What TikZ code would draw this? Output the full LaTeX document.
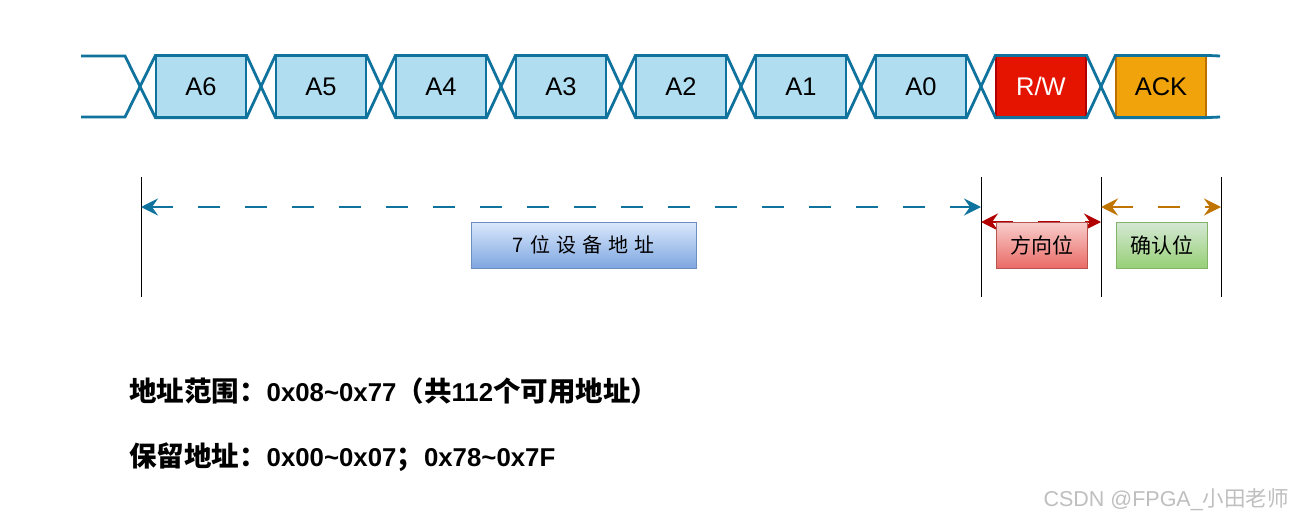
\documentclass[tikz,border=0pt]{standalone}
\usepackage{fontspec}
\setmainfont{Liberation Sans}
\newfontfamily\cjk{Noto Sans CJK SC}
\newcommand\cjbig[1]{{\cjk\fontsize{27.5}{30}\selectfont #1}}
\usetikzlibrary{arrows.meta}
\definecolor{busblue}{HTML}{10739E}
\definecolor{boxblue}{HTML}{B1DDF0}
\definecolor{rwfill}{HTML}{E51400}
\definecolor{rwdraw}{HTML}{B20000}
\definecolor{ackfill}{HTML}{F0A30A}
\definecolor{ackdraw}{HTML}{BD7000}
\definecolor{arrblue}{HTML}{10739E}
\definecolor{arrred}{HTML}{B20000}
\definecolor{arrorange}{HTML}{C07400}
\definecolor{bltop}{HTML}{DAE8FC}
\definecolor{blbot}{HTML}{7EA6E0}
\definecolor{bldraw}{HTML}{6C8EBF}
\definecolor{rdtop}{HTML}{F8CECC}
\definecolor{rdbot}{HTML}{EA6B66}
\definecolor{rddraw}{HTML}{B85450}
\definecolor{grtop}{HTML}{D5E8D4}
\definecolor{grbot}{HTML}{97D077}
\definecolor{grdraw}{HTML}{82B366}
\begin{document}
\begin{tikzpicture}[x=1pt,y=-1pt,
  bus/.style={draw=busblue, line width=2.8pt, line join=miter},
  bitbox/.style={draw=busblue, line width=1.2pt, fill=boxblue, minimum width=90pt,
    minimum height=61pt, inner sep=0pt, text height=18pt, text depth=0pt,
    font=\fontsize{25.5}{30}\selectfont},
  tick/.style={draw=black, line width=1pt},
  span/.style={line width=2.5pt, dash pattern=on 22pt off 25pt,
    {Stealth[length=17pt,width=17pt,inset=6pt]}-{Stealth[length=17pt,width=17pt,inset=6pt]}},
  labelbox/.style={line width=1pt, minimum height=46pt, inner sep=0pt,
    font=\cjk\fontsize{21}{24}\selectfont},
  note/.style={anchor=base west, inner sep=0pt, font=\bfseries\fontsize{25.8}{30}\selectfont}
]
\useasboundingbox (0,0) rectangle (1296,522);
\fill[white] (0,0) rectangle (1296,522);

% bit boxes
\node[bitbox] (a6) at (201,86.5) {A6};
\node[bitbox] (a5) at (321,86.5) {A5};
\node[bitbox] (a4) at (441,86.5) {A4};
\node[bitbox] (a3) at (561,86.5) {A3};
\node[bitbox] (a2) at (681,86.5) {A2};
\node[bitbox] (a1) at (801,86.5) {A1};
\node[bitbox] (a0) at (921,86.5) {A0};
\node[bitbox, fill=rwfill, draw=rwdraw, text=white] (rw) at (1041,86.5) {R/W};
\node[bitbox, fill=ackfill, draw=ackdraw] (ack) at (1161,86.5) {ACK};

\coordinate (s0t) at (81,56);
\coordinate (s1t) at (125,56);
\coordinate (s0b) at (81,117);
\coordinate (s1b) at (125,117);
\coordinate (e0t) at (1220,56);
\coordinate (e0b) at (1220,117);

\draw[bus] (s0t) -- (s1t) -- (a6.south west) -- (a6.south east) -- (a5.north west) -- (a5.north east)
  -- (a4.south west) -- (a4.south east) -- (a3.north west) -- (a3.north east)
  -- (a2.south west) -- (a2.south east) -- (a1.north west) -- (a1.north east)
  -- (a0.south west) -- (a0.south east) -- (rw.north west) -- (rw.north east)
  -- (ack.south west) -- (ack.south east) -- (e0b);
\draw[bus] (s0b) -- (s1b) -- (a6.north west) -- (a6.north east) -- (a5.south west) -- (a5.south east)
  -- (a4.north west) -- (a4.north east) -- (a3.south west) -- (a3.south east)
  -- (a2.north west) -- (a2.north east) -- (a1.south west) -- (a1.south east)
  -- (a0.north west) -- (a0.north east) -- (rw.south west) -- (rw.south east)
  -- (ack.north west) -- (ack.north east) -- (e0t);

% ticks
\coordinate (t1a) at (141,177); \coordinate (t1b) at (141,297);
\coordinate (t2a) at (981,177); \coordinate (t2b) at (981,297);
\coordinate (t3a) at (1101,177); \coordinate (t3b) at (1101,297);
\coordinate (t4a) at (1221,177); \coordinate (t4b) at (1221,297);
\draw[tick] (t1a) -- (t1b);
\draw[tick] (t2a) -- (t2b);
\draw[tick] (t3a) -- (t3b);
\draw[tick] (t4a) -- (t4b);

% spans
\coordinate (p1) at (141,207); \coordinate (p2) at (981,207);
\coordinate (q1) at (981,222); \coordinate (q2) at (1101,222);
\coordinate (r1) at (1101,207); \coordinate (r2) at (1221,207);
\draw[span, draw=arrblue] (p1) -- (p2);
\draw[span, draw=arrred] (q1) -- (q2);
\draw[span, draw=arrorange] (r1) -- (r2);

% label boxes
\node[labelbox, draw=bldraw, top color=bltop, bottom color=blbot,
  minimum width=225pt, font=\cjk\fontsize{20}{24}\selectfont] (addr) at (583.5,245)
  {7\hspace{6pt}位\hspace{6pt}设\hspace{6pt}备\hspace{6pt}地\hspace{6pt}址};
\node[labelbox, draw=rddraw, top color=rdtop, bottom color=rdbot,
  minimum width=91pt] (dir) at (1041.5,245) {方向位};
\node[labelbox, draw=grdraw, top color=grtop, bottom color=grbot,
  minimum width=91pt] (cfm) at (1161.5,245) {确认位};

% notes
\node[note] (n1) at (129,401) {\cjbig{地址范围：}0x08\textasciitilde 0x77\cjbig{（共}112\cjbig{个可用地址）}};
\node[note] (n2) at (129,466) {\cjbig{保留地址：}0x00\textasciitilde 0x07\cjbig{；}0x78\textasciitilde 0x7F};

% watermark
\node[anchor=east, inner sep=0pt, text=gray!50, font=\fontsize{21.5}{25}\selectfont] (wm) at (1289,500)
  {CSDN @FPGA\_{\cjk 小田老师}};
\end{tikzpicture}
\end{document}
